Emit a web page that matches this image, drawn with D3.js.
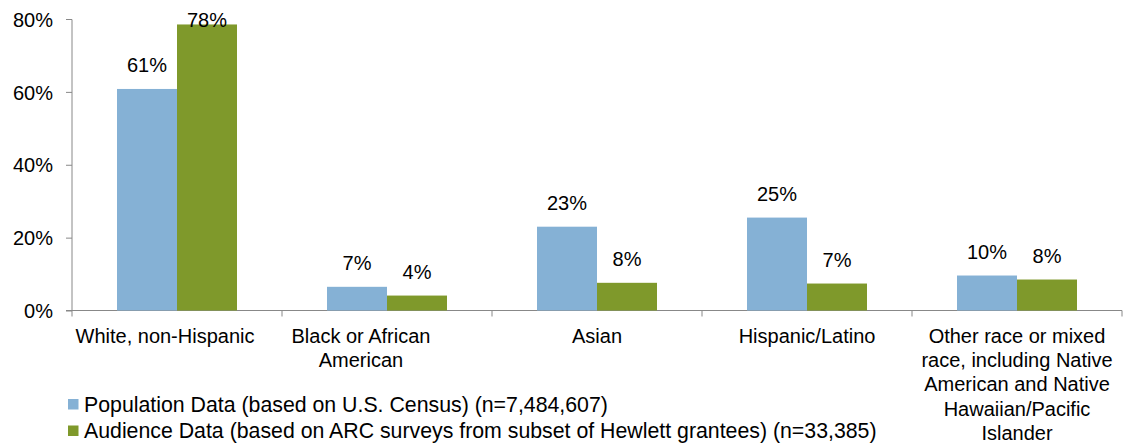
<!DOCTYPE html>
<html><head><meta charset="utf-8">
<script src="https://cdn.jsdelivr.net/npm/d3@7"></script>
<style>body{margin:0;background:#fff}svg{display:block;font-family:"Liberation Sans",Arial,sans-serif}</style>
</head><body><svg id="c" width="1123" height="448"></svg>
<script>
const categories = ["White, non-Hispanic","Black or African American","Asian","Hispanic/Latino","Other race or mixed race, including Native American and Native Hawaiian/Pacific Islander"];
const categoryLines = [["White, non-Hispanic"],["Black or African","American"],["Asian"],["Hispanic/Latino"],["Other race or mixed","race, including Native","American and Native","Hawaiian/Pacific","Islander"]];
const populationValues = [60.8, 6.5, 23.0, 25.5, 9.6];
const audienceValues = [78.5, 4.1, 7.6, 7.4, 8.5];
const populationLabels = ["61%","7%","23%","25%","10%"];
const audienceLabels = ["78%","4%","8%","7%","8%"];
const seriesNames = ["Population Data (based on U.S. Census) (n=7,484,607)","Audience Data (based on ARC surveys from subset of Hewlett grantees) (n=33,385)"];
const yTicks = [0,20,40,60,80];
const colors = ["#85B1D5","#7F992B"];

const svg = d3.select("#c");
const x0 = d3.scaleBand().domain(categories).range([72,1122]).paddingInner(0).paddingOuter(0);
const y = d3.scaleLinear().domain([0,80]).range([310.5,19]);
const bw = 60, gap = 45;
const FS = 20;
const labelShift = [-12,-26,0,0,0];

// y axis
const ya = svg.append("g").attr("transform","translate(72,0)")
  .call(d3.axisLeft(y).tickValues(yTicks).tickFormat(d=>d+"%").tickSize(6).tickPadding(14));
ya.select(".domain").attr("stroke","#888").attr("d","M0,19.5V310.5");
ya.selectAll(".tick line").attr("stroke","#888");
ya.selectAll(".tick text").attr("font-size",FS).attr("fill","#000").attr("font-family","Liberation Sans, Arial, sans-serif").attr("dy","0.36em").attr("x",-19);

// x axis
const xa = svg.append("g").attr("transform","translate(0,310.5)");
xa.append("line").attr("x1",66).attr("x2",1122).attr("stroke","#888");
const bounds = categories.map(c=>x0(c)).concat([x0.range()[1]]);
xa.selectAll(".xt").data(bounds).enter().append("line")
  .attr("x1",d=>d).attr("x2",d=>d).attr("y1",0).attr("y2",6).attr("stroke","#888");

const series = [populationValues, audienceValues];
const labels = [populationLabels, audienceLabels];
series.forEach((vals,si)=>{
  svg.selectAll(".b"+si).data(categories).enter().append("rect")
    .attr("x",c=>x0(c)+gap+si*bw).attr("width",bw)
    .attr("y",(c,i)=>y(vals[i])).attr("height",(c,i)=>y(0)-y(vals[i]))
    .attr("fill",colors[si]);
  svg.selectAll(".l"+si).data(categories).enter().append("text")
    .attr("x",c=>x0(c)+gap+si*bw+bw/2)
    .attr("y",(c,i)=>Math.max(y(vals[i])-17,27))
    .attr("text-anchor","middle").attr("font-size",FS).attr("fill","#000")
    .text((c,i)=>labels[si][i]);
});

// category labels
categories.forEach((c,i)=>{
  const t = svg.append("text").attr("text-anchor","middle").attr("font-size",FS).attr("fill","#000");
  categoryLines[i].forEach((ln,j)=>{
    t.append("tspan").attr("x",x0(c)+x0.bandwidth()/2+labelShift[i]).attr("y",343+j*24.2).text(ln);
  });
});

// legend
seriesNames.forEach((n,i)=>{
  svg.append("rect").attr("x",68).attr("y",399+i*26.5).attr("width",10.5).attr("height",10.5).attr("fill",colors[i]);
  svg.append("text").attr("x",84).attr("y",411.5+i*26.5).attr("font-size",21.3).attr("fill","#000").text(n);
});
</script></body></html>
